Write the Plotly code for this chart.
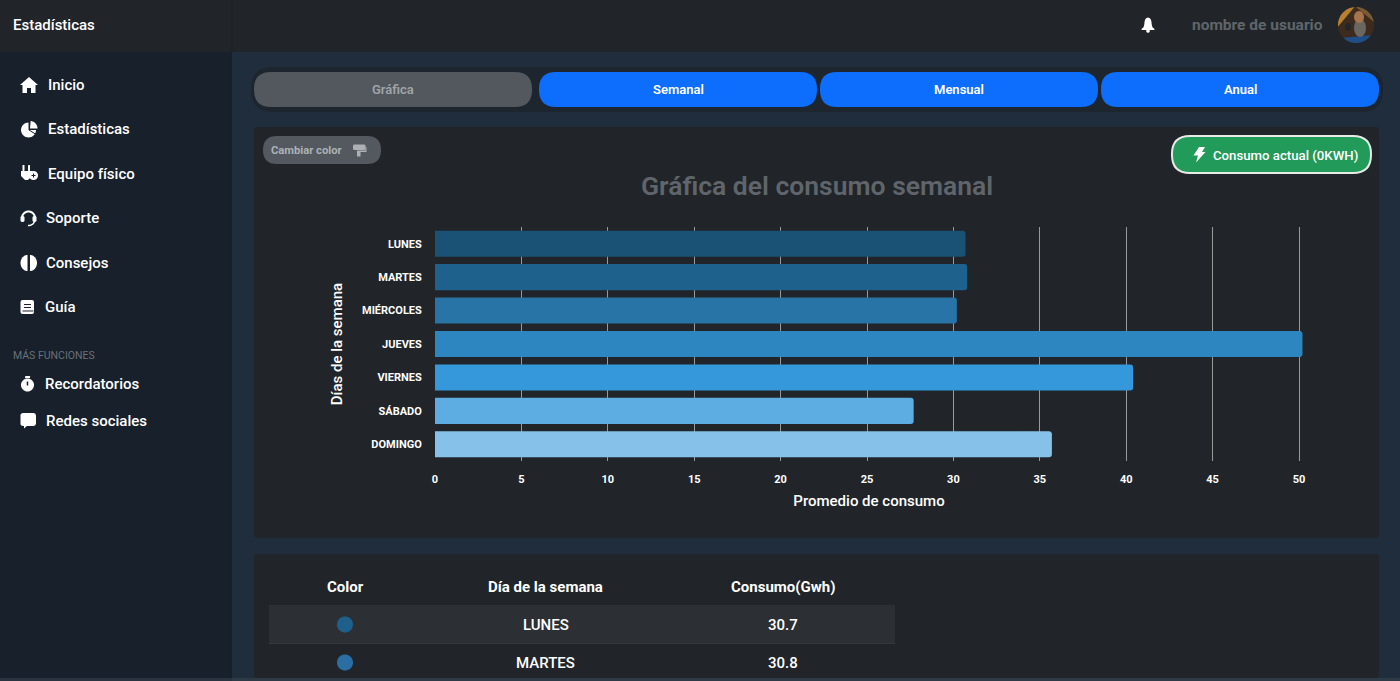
import math
import re

import plotly.graph_objects as go

# Chart data
dias = ["LUNES", "MARTES", "MIÉRCOLES", "JUEVES", "VIERNES", "SÁBADO", "DOMINGO"]
consumo = [30.7, 30.8, 30.2, 50.2, 40.4, 27.7, 35.7]
colores = ["#1a5276", "#1f618d", "#2874a6", "#2e86c1", "#3498db", "#5dade2", "#85c1e9"]
x_ticks = [0, 5, 10, 15, 20, 25, 30, 35, 40, 45, 50]

# Table under the chart (only two rows fit in the window)
tabla_dias = ["LUNES", "MARTES"]
tabla_consumo = ["30.7", "30.8"]
tabla_puntos = ["#1f5f8c", "#2a6ea3"]

# Sidebar text
menu = ["Inicio", "Estadísticas", "Equipo físico", "Soporte", "Consejos", "Guía", "Recordatorios", "Redes sociales"]
menu_x = [48, 48, 48, 46, 46, 45, 45, 46]
menu_y = [85, 129, 174, 218, 263, 307, 384, 421]

W, H = 1400, 681
FONT = "Roboto"
shapes = []
notes = []


def fx(x):
    return x / W


def fy(y):
    return 1 - y / H


def path(d, fill=None, line=None, lw=0):
    # d is written in pixels, converted here to paper coordinates
    parts = re.findall(r"[A-Za-z]|-?[\d.]+", d)
    out, is_x = [], True
    for p in parts:
        if p.isalpha():
            out.append(p)
        else:
            out.append(f"{fx(float(p)) if is_x else fy(float(p)):.5f}")
            is_x = not is_x
    shapes.append(dict(type="path", path=" ".join(out), xref="paper", yref="paper", layer="below",
                       fillcolor=fill or "rgba(0,0,0,0)", line=dict(color=line or "rgba(0,0,0,0)", width=lw)))


def rrect(x0, y0, x1, y1, r, fill=None, line=None, lw=0):
    path(f"M {x0+r} {y0} L {x1-r} {y0} Q {x1} {y0} {x1} {y0+r} L {x1} {y1-r} Q {x1} {y1} {x1-r} {y1} "
         f"L {x0+r} {y1} Q {x0} {y1} {x0} {y1-r} L {x0} {y0+r} Q {x0} {y0} {x0+r} {y0} Z", fill, line, lw)


def poly(pts, fill=None, line=None, lw=0, closed=True):
    d = "M " + " L ".join(f"{x:.2f} {y:.2f}" for x, y in pts)
    path(d + (" Z" if closed else ""), fill, line, lw)


def arc(cx, cy, rx, ry, a0, a1, n=24):
    return [(cx + rx * math.cos(math.radians(a0 + (a1 - a0) * i / n)),
             cy + ry * math.sin(math.radians(a0 + (a1 - a0) * i / n))) for i in range(n + 1)]


def circ(cx, cy, r, fill):
    poly(arc(cx, cy, r, r, 0, 360, 40), fill)


def text(x, y, s, size=15, color="#ffffff", weight=500, anchor="left", font=FONT):
    notes.append(dict(x=fx(x), y=fy(y), xref="paper", yref="paper", text=s, showarrow=False,
                      borderpad=0, borderwidth=0,
                      xanchor=anchor, yanchor="middle", font=dict(family=font, size=size, color=color, weight=weight)))


BLANCO = "#ffffff"
SIDE = "#17202b"
CARD = "#212529"

# Page blocks
rrect(232, 52, 1400, 681, 0.1, "#1f2d3c")
rrect(0, 0, 1400, 52, 0.1, CARD)
rrect(0, 52, 232, 681, 0.1, SIDE)
path("M 232 0 L 232 52", line="#1c2024", lw=1)
rrect(232, 678, 1400, 681, 0.1, "#2f3a47")
rrect(0, 678, 232, 681, 0.1, "#2a3441")

# Tabs
rrect(251, 67, 1383, 112, 22, "#1d252e")
rrect(254, 72, 532, 107, 17, "#53585e")
for x0, x1 in [(539, 817), (820, 1098), (1101, 1379)]:
    rrect(x0, 72, x1, 107, 17, "#0d6efd")
text(393, 89.5, "Gráfica", 13, "#9fa4a8", 600, "center")
text(678, 89.5, "Semanal", 13, BLANCO, 600, "center")
text(959, 89.5, "Mensual", 13, BLANCO, 600, "center")
text(1240, 89.5, "Anual", 13, BLANCO, 600, "center")

# Cards
rrect(254, 127, 1379, 538, 4, CARD)
rrect(254, 554, 1379, 678, 3, CARD)

# Buttons on the chart card
rrect(263, 136, 381, 164, 14, "#54595f")
text(271, 150.5, "Cambiar color", 11.2, "#adb1b5", 700)
rrect(1172, 136, 1371, 173, 18, "#229a59", "#e6ebe8", 2)
text(1213, 155.5, "Consumo actual (0KWH)", 13.2, BLANCO, 500)
poly([(1199, 147), (1205, 147), (1202, 152), (1205.5, 152), (1196, 162.5), (1198, 155.5), (1193.5, 155.5)], BLANCO)
# paint roller
rrect(353, 144.5, 365.5, 150, 1.5, "#adb1b5")
poly([(365.5, 147), (366.5, 147), (366.5, 152), (360.5, 152), (360.5, 156.5), (357, 156.5), (357, 150.5), (365.5, 150.5)], "#adb1b5")

# Top bar
text(13, 25.5, "Estadísticas", 15, BLANCO, 500)
text(1192, 25.5, "nombre de usuario", 15.5, "#5f656b", 700)
path("M 1142 29 Q 1144.5 27 1144.5 22 Q 1145 18 1148 17.5 Q 1151 18 1151.5 22 Q 1151.5 27 1154 29 Z", BLANCO)
rrect(1141.5, 28.5, 1154.5, 30, 0.5, BLANCO)
circ(1148, 31, 1.8, BLANCO)
# avatar
circ(1356, 25, 18, "#3d2c1e")
poly(arc(1356, 25, 18, 18, 175, 265), "#b9812f")
poly(arc(1356, 25, 18, 18, 270, 350), "#7a5a34")
poly(arc(1356, 25, 18, 18, 35, 135), "#1f4f86")
poly(arc(1360, 28, 6, 9, 0, 360), "#6a6660")
poly(arc(1359, 17, 5, 6, 0, 360), "#a8744e")
poly(arc(1348, 27, 3, 4, 0, 360), "#20262c")

# Sidebar
for nombre, x, y in zip(menu, menu_x, menu_y):
    text(x, y, nombre, 15, BLANCO, 500)
text(13, 355, "MÁS FUNCIONES", 10.5, "#6b7178", 400)

# home
poly([(20, 85), (29, 77), (38, 85), (35.5, 85), (35.5, 93), (31, 93), (31, 88), (27, 88), (27, 93), (22.5, 93), (22.5, 85)], BLANCO)
# pie
poly([(28.5, 130)] + arc(28.5, 130, 7.5, 7.5, 0, 270), BLANCO)
poly([(30, 128.5)] + arc(30, 128.5, 7.5, 7.5, -85, 0), BLANCO)
path("M 29 130 L 37 135", line=SIDE, lw=1)
# plug
rrect(22.5, 165, 24.5, 171, 0.5, BLANCO)
rrect(28, 165, 30, 171, 0.5, BLANCO)
poly([(21, 171), (32, 171), (32, 176), (28, 180), (25, 180), (21, 176)], BLANCO)
circ(33.5, 175.5, 4.5, BLANCO)
path("M 31.5 175.5 L 35.5 175.5 M 33.5 173.5 L 33.5 177.5", line=SIDE, lw=1)
# headset
poly(arc(28.5, 218, 6.5, 6.5, 180, 360), line=BLANCO, lw=2, closed=False)
rrect(20.5, 216, 24.5, 222, 1.5, BLANCO)
rrect(32.5, 216, 36.5, 222, 1.5, BLANCO)
poly(arc(28.5, 219, 6.5, 6.5, 20, 95), line=BLANCO, lw=1.5, closed=False)
# brain
poly(arc(27.5, 263, 7, 8, 90, 270), BLANCO)
poly(arc(30, 263, 7, 8, -90, 90), BLANCO)
# book
rrect(20.5, 300, 34, 314, 2, BLANCO)
path("M 24 304.5 L 31 304.5 M 24 307.5 L 31 307.5", line=SIDE, lw=1)
path("M 22.5 311 L 33.5 311", line=SIDE, lw=1)
# stopwatch
circ(27.5, 385, 6.5, BLANCO)
rrect(25, 376, 30, 378, 0.5, BLANCO)
path("M 27.5 381.5 L 27.5 385.5", line=SIDE, lw=1.5)
# comment
rrect(20.5, 413, 36, 426, 2.5, BLANCO)
poly([(24, 425), (28, 425), (24, 428.5)], BLANCO)

# Table
text(345.5, 587, "Color", 15, BLANCO, 700, "center")
text(545.5, 587, "Día de la semana", 15, BLANCO, 700, "center")
text(783, 587, "Consumo(Gwh)", 15, BLANCO, 700, "center")
rrect(269, 605, 895, 643.5, 0.1, "#2c3034")
path("M 269 643.5 L 895 643.5", line="#373b3f", lw=1)
for i, (d, v, c) in enumerate(zip(tabla_dias, tabla_consumo, tabla_puntos)):
    y_fila = 624.5 + i * 38
    circ(345, y_fila, 8, c)
    text(545.5, y_fila + 0.5, d, 15, BLANCO, 500, "center")
    text(783, y_fila + 0.5, v, 15, BLANCO, 500, "center")

text(817, 185, "Gráfica del consumo semanal", 26.5, "#5f656b", 600, "center")

fig = go.Figure(go.Bar(
    x=consumo, y=dias, orientation="h",
    marker=dict(color=colores, line_width=0, cornerradius=3),
    showlegend=False,
))

fig.update_layout(
    width=W, height=H,
    margin=dict(l=0, r=0, t=0, b=0, autoexpand=False),
    paper_bgcolor=CARD,
    plot_bgcolor="rgba(0,0,0,0)",
    bargap=0.22,
    shapes=shapes,
    annotations=notes,
    font=dict(family=FONT, color=BLANCO),
    xaxis=dict(
        domain=[fx(435), fx(1303)], range=[0, 868 / 17.28],
        tickvals=x_ticks, showgrid=True, gridcolor="#97999b", gridwidth=1.3, zeroline=False,
        ticks="outside", ticklen=8, tickcolor="rgba(0,0,0,0)",
        tickfont=dict(family=FONT, size=11, color=BLANCO, weight=700),
        title=dict(text="Promedio de consumo", standoff=10,
                   font=dict(family=FONT, size=15, color=BLANCO, weight=500)),
    ),
    yaxis=dict(
        domain=[fy(461), fy(227)], autorange="reversed",
        showgrid=False, zeroline=False,
        ticks="outside", ticklen=10, tickcolor="rgba(0,0,0,0)",
        tickfont=dict(family=FONT, size=11, color=BLANCO, weight=700),
        title=dict(text="Días de la semana", standoff=15,
                   font=dict(family=FONT, size=15, color=BLANCO, weight=500)),
    ),
)

fig.write_html("out.html", config={"displayModeBar": False},
               post_script="document.body.style.margin='0';document.body.style.overflow='hidden';")
